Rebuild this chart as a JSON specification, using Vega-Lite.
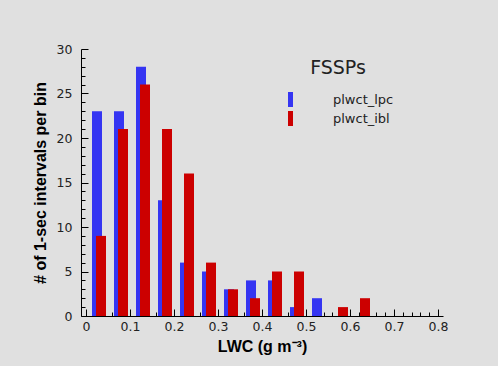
{
  "$schema": "https://vega.github.io/schema/vega-lite/v6.json",
  "autosize": "none",
  "width": 362,
  "height": 267,
  "padding": {"left": 81, "top": 49, "right": 55, "bottom": 50},
  "background": "#e0e0e0",
  "config": {
    "view": {"stroke": null},
    "font": "Liberation Sans",
    "axis": {"labelFont": "Liberation Sans", "titleFont": "Liberation Sans", "labelColor": "#222", "titleColor": "#000", "domainColor": "#000", "tickColor": "#000", "grid": false}
  },
  "datasets": {
    "hist": [
      {"bin": 0.00, "series": "plwct_lpc", "count": 23},
      {"bin": 0.05, "series": "plwct_lpc", "count": 23},
      {"bin": 0.10, "series": "plwct_lpc", "count": 28},
      {"bin": 0.15, "series": "plwct_lpc", "count": 13},
      {"bin": 0.20, "series": "plwct_lpc", "count": 6},
      {"bin": 0.25, "series": "plwct_lpc", "count": 5},
      {"bin": 0.30, "series": "plwct_lpc", "count": 3},
      {"bin": 0.35, "series": "plwct_lpc", "count": 4},
      {"bin": 0.40, "series": "plwct_lpc", "count": 4},
      {"bin": 0.45, "series": "plwct_lpc", "count": 1},
      {"bin": 0.50, "series": "plwct_lpc", "count": 2},
      {"bin": 0.00, "series": "plwct_ibl", "count": 9},
      {"bin": 0.05, "series": "plwct_ibl", "count": 21},
      {"bin": 0.10, "series": "plwct_ibl", "count": 26},
      {"bin": 0.15, "series": "plwct_ibl", "count": 21},
      {"bin": 0.20, "series": "plwct_ibl", "count": 16},
      {"bin": 0.25, "series": "plwct_ibl", "count": 6},
      {"bin": 0.30, "series": "plwct_ibl", "count": 3},
      {"bin": 0.35, "series": "plwct_ibl", "count": 2},
      {"bin": 0.40, "series": "plwct_ibl", "count": 5},
      {"bin": 0.45, "series": "plwct_ibl", "count": 5},
      {"bin": 0.55, "series": "plwct_ibl", "count": 1},
      {"bin": 0.60, "series": "plwct_ibl", "count": 2}
    ]
  },
  "data": {"name": "hist"},
  "resolve": {"axis": {"x": "independent", "y": "independent"}},
  "layer": [
    {
      "transform": [{"filter": "datum.series === 'plwct_lpc'"}],
      "mark": {"type": "bar", "width": 10, "xOffset": 11},
      "encoding": {
        "x": {"field": "bin", "type": "quantitative", "scale": {"domain": [0, 0.8], "nice": false},
          "axis": {"orient": "bottom", "values": [0, 0.1, 0.2, 0.3, 0.4, 0.5, 0.6, 0.7, 0.8], "format": ".1~f", "tickSize": -7, "labelFont": "DejaVu Sans", "labelFontSize": 12.5, "labelPadding": 11, "title": "LWC (g m⁻³)", "titleFontSize": 16, "titleFontWeight": "bold", "titlePadding": 6}},
        "y": {"field": "count", "type": "quantitative", "scale": {"domain": [0, 30], "nice": false},
          "axis": {"orient": "left", "values": [0, 5, 10, 15, 20, 25, 30], "tickSize": -7, "labelFont": "DejaVu Sans", "labelFontSize": 12.5, "labelPadding": 16, "title": "# of 1-sec intervals per bin", "titleFontSize": 16, "titleFontWeight": "bold", "titlePadding": 8}},
        "color": {"field": "series", "type": "nominal",
          "scale": {"domain": ["plwct_lpc", "plwct_ibl"], "range": ["#3535f2", "#cc0000"]},
          "legend": {"orient": "none", "legendX": 202, "legendY": 10, "title": "FSSPs", "titleFont": "DejaVu Sans", "titleFontSize": 19, "titleFontWeight": "normal", "titleColor": "#222", "titleAnchor": "middle", "titlePadding": 14, "symbolType": "M-0.33,-1H0.33V1H-0.33Z", "symbolSize": 225, "symbolStrokeWidth": 0, "labelOffset": 35, "labelFont": "DejaVu Sans", "labelFontSize": 13, "labelColor": "#222", "rowPadding": 4}}
      }
    },
    {
      "transform": [{"filter": "datum.series === 'plwct_ibl'"}],
      "mark": {"type": "bar", "width": 10, "xOffset": 15},
      "encoding": {
        "x": {"field": "bin", "type": "quantitative",
          "axis": {"orient": "bottom", "values": [0.02,0.04,0.06,0.08,0.12,0.14,0.16,0.18,0.22,0.24,0.26,0.28,0.32,0.34,0.36,0.38,0.42,0.44,0.46,0.48,0.52,0.54,0.56,0.58,0.62,0.64,0.66,0.68,0.72,0.74,0.76,0.78], "tickSize": -4, "labels": false, "domain": false, "title": null}},
        "y": {"field": "count", "type": "quantitative",
          "axis": {"orient": "left", "values": [1,2,3,4,6,7,8,9,11,12,13,14,16,17,18,19,21,22,23,24,26,27,28,29], "tickSize": -4, "labels": false, "domain": false, "title": null}},
        "color": {"field": "series", "type": "nominal"}
      }
    }
  ]
}
